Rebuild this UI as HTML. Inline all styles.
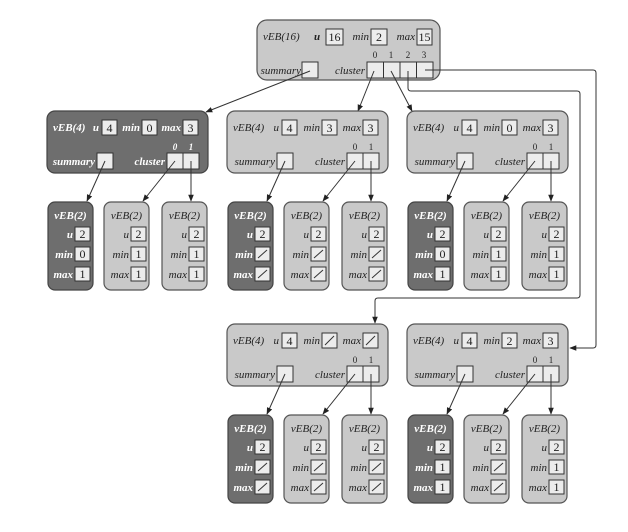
<!DOCTYPE html>
<html><head><meta charset="utf-8"><style>
body{margin:0;background:#fff}
svg{display:block}
text{font-family:"Liberation Serif",serif;font-style:italic;font-size:11px;fill:#222}
.n{font-style:normal;font-size:12px}
.d text{fill:#fff;font-weight:bold}
.d text.n{fill:#222;font-weight:normal}
.b{fill:#ececec;stroke:#333;stroke-width:1}
.L{fill:#c9c9c9;stroke:#555;stroke-width:1.2}
.D{fill:#6e6e6e;stroke:#444;stroke-width:1.2}
.a{stroke:#333;stroke-width:1;fill:none;marker-end:url(#ar)}
.s{stroke:#333;stroke-width:1}
</style></head><body>
<svg width="628" height="532" viewBox="0 0 628 532">
<defs>
<marker id="ar" viewBox="0 0 10 10" refX="9" refY="5" markerWidth="7" markerHeight="7" orient="auto-start-reverse"><path d="M0,1 L10,5 L0,9 z" fill="#222"/></marker>
<g id="v4in">
<rect class="b" x="55" y="9" width="15" height="15"/>
<rect class="b" x="95" y="9" width="15" height="15"/>
<rect class="b" x="136" y="9" width="15" height="15"/>
<rect class="b" x="50" y="42" width="16" height="16"/>
<rect class="b" x="120" y="42" width="16" height="16"/>
<rect class="b" x="136" y="42" width="16" height="16"/>
</g>
<g id="v2in">
<rect class="b" x="27" y="25" width="15" height="14"/>
<rect class="b" x="27" y="45" width="15" height="14"/>
<rect class="b" x="27" y="65" width="15" height="14"/>
</g>
</defs>

<rect class="L" x="257" y="20" width="183" height="60" rx="10"/>
<text x="263" y="40">vEB(16)</text>
<text x="314" y="40" style="font-weight:bold">u</text><rect class="b" x="326" y="29" width="17" height="16"/><text class="n" x="334.5" y="41" text-anchor="middle">16</text>
<text x="369" y="40" text-anchor="end">min</text><rect class="b" x="371" y="29" width="16" height="16"/><text class="n" x="379" y="41" text-anchor="middle">2</text>
<text x="415" y="40" text-anchor="end">max</text><rect class="b" x="417" y="29" width="15" height="16"/><text class="n" x="424.5" y="41" text-anchor="middle">15</text>
<text class="n" x="375" y="58" text-anchor="middle" style="font-size:9px">0</text>
<text class="n" x="391" y="58" text-anchor="middle" style="font-size:9px">1</text>
<text class="n" x="408" y="58" text-anchor="middle" style="font-size:9px">2</text>
<text class="n" x="424" y="58" text-anchor="middle" style="font-size:9px">3</text>
<text x="301" y="74" text-anchor="end">summary</text><rect class="b" x="302" y="62" width="16" height="16"/>
<text x="365" y="74" text-anchor="end">cluster</text>
<rect class="b" x="367" y="62" width="16.5" height="16"/><rect class="b" x="383.5" y="62" width="16.5" height="16"/><rect class="b" x="400" y="62" width="16.5" height="16"/><rect class="b" x="416.5" y="62" width="16.5" height="16"/>

<line class="a" x1="310" y1="71" x2="206" y2="112"/>
<line class="a" x1="374" y1="71" x2="358" y2="111"/>
<line class="a" x1="391" y1="71" x2="412" y2="111"/>
<path class="a" d="M408,71 V88 Q408,91 411,91 H577 Q580,91 580,94 V295 Q580,298 577,298 H378 Q375,298 375,301 V323"/>
<path class="a" d="M425,70 H593 Q596,70 596,73 V345 Q596,348 593,348 H570"/>

<g transform="translate(47,111)" class="d">
<rect class="D" x="0" y="0" width="161" height="62" rx="8"/>
<text x="6" y="20">vEB(4)</text><text x="52" y="20" text-anchor="end">u</text><text x="93" y="20" text-anchor="end">min</text><text x="134" y="20" text-anchor="end">max</text>
<text x="48" y="54" text-anchor="end">summary</text><text x="118" y="54" text-anchor="end">cluster</text>
<text x="128" y="39" text-anchor="middle" style="font-size:9px">0</text><text x="144" y="39" text-anchor="middle" style="font-size:9px">1</text>
<use href="#v4in"/>
<text class="n" x="62.5" y="21" text-anchor="middle">4</text><text class="n" x="102.5" y="21" text-anchor="middle">0</text><text class="n" x="143.5" y="21" text-anchor="middle">3</text>
</g>
<g transform="translate(227,111)">
<rect class="L" x="0" y="0" width="161" height="62" rx="8"/>
<text x="6" y="20">vEB(4)</text><text x="52" y="20" text-anchor="end">u</text><text x="93" y="20" text-anchor="end">min</text><text x="134" y="20" text-anchor="end">max</text>
<text x="48" y="54" text-anchor="end">summary</text><text x="118" y="54" text-anchor="end">cluster</text>
<text class="n" x="128" y="39" text-anchor="middle" style="font-size:9px">0</text><text class="n" x="144" y="39" text-anchor="middle" style="font-size:9px">1</text>
<use href="#v4in"/>
<text class="n" x="62.5" y="21" text-anchor="middle">4</text><text class="n" x="102.5" y="21" text-anchor="middle">3</text><text class="n" x="143.5" y="21" text-anchor="middle">3</text>
</g>
<g transform="translate(407,111)">
<rect class="L" x="0" y="0" width="161" height="62" rx="8"/>
<text x="6" y="20">vEB(4)</text><text x="52" y="20" text-anchor="end">u</text><text x="93" y="20" text-anchor="end">min</text><text x="134" y="20" text-anchor="end">max</text>
<text x="48" y="54" text-anchor="end">summary</text><text x="118" y="54" text-anchor="end">cluster</text>
<text class="n" x="128" y="39" text-anchor="middle" style="font-size:9px">0</text><text class="n" x="144" y="39" text-anchor="middle" style="font-size:9px">1</text>
<use href="#v4in"/>
<text class="n" x="62.5" y="21" text-anchor="middle">4</text><text class="n" x="102.5" y="21" text-anchor="middle">0</text><text class="n" x="143.5" y="21" text-anchor="middle">3</text>
</g>
<g transform="translate(227,324)">
<rect class="L" x="0" y="0" width="161" height="62" rx="8"/>
<text x="6" y="20">vEB(4)</text><text x="52" y="20" text-anchor="end">u</text><text x="93" y="20" text-anchor="end">min</text><text x="134" y="20" text-anchor="end">max</text>
<text x="48" y="54" text-anchor="end">summary</text><text x="118" y="54" text-anchor="end">cluster</text>
<text class="n" x="128" y="39" text-anchor="middle" style="font-size:9px">0</text><text class="n" x="144" y="39" text-anchor="middle" style="font-size:9px">1</text>
<use href="#v4in"/>
<text class="n" x="62.5" y="21" text-anchor="middle">4</text>
<line class="s" x1="98" y1="21" x2="107" y2="12"/><line class="s" x1="139" y1="21" x2="148" y2="12"/>
</g>
<g transform="translate(407,324)">
<rect class="L" x="0" y="0" width="161" height="62" rx="8"/>
<text x="6" y="20">vEB(4)</text><text x="52" y="20" text-anchor="end">u</text><text x="93" y="20" text-anchor="end">min</text><text x="134" y="20" text-anchor="end">max</text>
<text x="48" y="54" text-anchor="end">summary</text><text x="118" y="54" text-anchor="end">cluster</text>
<text class="n" x="128" y="39" text-anchor="middle" style="font-size:9px">0</text><text class="n" x="144" y="39" text-anchor="middle" style="font-size:9px">1</text>
<use href="#v4in"/>
<text class="n" x="62.5" y="21" text-anchor="middle">4</text><text class="n" x="102.5" y="21" text-anchor="middle">2</text><text class="n" x="143.5" y="21" text-anchor="middle">3</text>
</g>

<g transform="translate(47,111)"><line class="a" x1="58" y1="50" x2="40" y2="90"/><line class="a" x1="128" y1="50" x2="96" y2="90"/><line class="a" x1="144" y1="50" x2="144" y2="90"/></g>
<g transform="translate(227,111)"><line class="a" x1="58" y1="50" x2="40" y2="90"/><line class="a" x1="128" y1="50" x2="96" y2="90"/><line class="a" x1="144" y1="50" x2="144" y2="90"/></g>
<g transform="translate(407,111)"><line class="a" x1="58" y1="50" x2="40" y2="90"/><line class="a" x1="128" y1="50" x2="96" y2="90"/><line class="a" x1="144" y1="50" x2="144" y2="90"/></g>
<g transform="translate(227,324)"><line class="a" x1="58" y1="50" x2="40" y2="90"/><line class="a" x1="128" y1="50" x2="96" y2="90"/><line class="a" x1="144" y1="50" x2="144" y2="90"/></g>
<g transform="translate(407,324)"><line class="a" x1="58" y1="50" x2="40" y2="90"/><line class="a" x1="128" y1="50" x2="96" y2="90"/><line class="a" x1="144" y1="50" x2="144" y2="90"/></g>

<g transform="translate(48,202)" class="d"><rect class="D" width="45" height="88" rx="7"/><text x="22.5" y="17" text-anchor="middle">vEB(2)</text><text x="25" y="36" text-anchor="end">u</text><text x="25" y="56" text-anchor="end">min</text><text x="25" y="76" text-anchor="end">max</text><use href="#v2in"/><text class="n" x="34.5" y="36" text-anchor="middle">2</text><text class="n" x="34.5" y="56" text-anchor="middle">0</text><text class="n" x="34.5" y="76" text-anchor="middle">1</text></g>
<g transform="translate(104,202)"><rect class="L" width="45" height="88" rx="7"/><text x="22.5" y="17" text-anchor="middle">vEB(2)</text><text x="25" y="36" text-anchor="end">u</text><text x="25" y="56" text-anchor="end">min</text><text x="25" y="76" text-anchor="end">max</text><use href="#v2in"/><text class="n" x="34.5" y="36" text-anchor="middle">2</text><text class="n" x="34.5" y="56" text-anchor="middle">1</text><text class="n" x="34.5" y="76" text-anchor="middle">1</text></g>
<g transform="translate(162,202)"><rect class="L" width="45" height="88" rx="7"/><text x="22.5" y="17" text-anchor="middle">vEB(2)</text><text x="25" y="36" text-anchor="end">u</text><text x="25" y="56" text-anchor="end">min</text><text x="25" y="76" text-anchor="end">max</text><use href="#v2in"/><text class="n" x="34.5" y="36" text-anchor="middle">2</text><text class="n" x="34.5" y="56" text-anchor="middle">1</text><text class="n" x="34.5" y="76" text-anchor="middle">1</text></g>
<g transform="translate(228,202)" class="d"><rect class="D" width="45" height="88" rx="7"/><text x="22.5" y="17" text-anchor="middle">vEB(2)</text><text x="25" y="36" text-anchor="end">u</text><text x="25" y="56" text-anchor="end">min</text><text x="25" y="76" text-anchor="end">max</text><use href="#v2in"/><text class="n" x="34.5" y="36" text-anchor="middle">2</text><line class="s" x1="30" y1="56" x2="39" y2="48"/><line class="s" x1="30" y1="76" x2="39" y2="68"/></g>
<g transform="translate(284,202)"><rect class="L" width="45" height="88" rx="7"/><text x="22.5" y="17" text-anchor="middle">vEB(2)</text><text x="25" y="36" text-anchor="end">u</text><text x="25" y="56" text-anchor="end">min</text><text x="25" y="76" text-anchor="end">max</text><use href="#v2in"/><text class="n" x="34.5" y="36" text-anchor="middle">2</text><line class="s" x1="30" y1="56" x2="39" y2="48"/><line class="s" x1="30" y1="76" x2="39" y2="68"/></g>
<g transform="translate(342,202)"><rect class="L" width="45" height="88" rx="7"/><text x="22.5" y="17" text-anchor="middle">vEB(2)</text><text x="25" y="36" text-anchor="end">u</text><text x="25" y="56" text-anchor="end">min</text><text x="25" y="76" text-anchor="end">max</text><use href="#v2in"/><text class="n" x="34.5" y="36" text-anchor="middle">2</text><line class="s" x1="30" y1="56" x2="39" y2="48"/><line class="s" x1="30" y1="76" x2="39" y2="68"/></g>
<g transform="translate(408,202)" class="d"><rect class="D" width="45" height="88" rx="7"/><text x="22.5" y="17" text-anchor="middle">vEB(2)</text><text x="25" y="36" text-anchor="end">u</text><text x="25" y="56" text-anchor="end">min</text><text x="25" y="76" text-anchor="end">max</text><use href="#v2in"/><text class="n" x="34.5" y="36" text-anchor="middle">2</text><text class="n" x="34.5" y="56" text-anchor="middle">0</text><text class="n" x="34.5" y="76" text-anchor="middle">1</text></g>
<g transform="translate(464,202)"><rect class="L" width="45" height="88" rx="7"/><text x="22.5" y="17" text-anchor="middle">vEB(2)</text><text x="25" y="36" text-anchor="end">u</text><text x="25" y="56" text-anchor="end">min</text><text x="25" y="76" text-anchor="end">max</text><use href="#v2in"/><text class="n" x="34.5" y="36" text-anchor="middle">2</text><text class="n" x="34.5" y="56" text-anchor="middle">1</text><text class="n" x="34.5" y="76" text-anchor="middle">1</text></g>
<g transform="translate(522,202)"><rect class="L" width="45" height="88" rx="7"/><text x="22.5" y="17" text-anchor="middle">vEB(2)</text><text x="25" y="36" text-anchor="end">u</text><text x="25" y="56" text-anchor="end">min</text><text x="25" y="76" text-anchor="end">max</text><use href="#v2in"/><text class="n" x="34.5" y="36" text-anchor="middle">2</text><text class="n" x="34.5" y="56" text-anchor="middle">1</text><text class="n" x="34.5" y="76" text-anchor="middle">1</text></g>
<g transform="translate(228,415)" class="d"><rect class="D" width="45" height="88" rx="7"/><text x="22.5" y="17" text-anchor="middle">vEB(2)</text><text x="25" y="36" text-anchor="end">u</text><text x="25" y="56" text-anchor="end">min</text><text x="25" y="76" text-anchor="end">max</text><use href="#v2in"/><text class="n" x="34.5" y="36" text-anchor="middle">2</text><line class="s" x1="30" y1="56" x2="39" y2="48"/><line class="s" x1="30" y1="76" x2="39" y2="68"/></g>
<g transform="translate(284,415)"><rect class="L" width="45" height="88" rx="7"/><text x="22.5" y="17" text-anchor="middle">vEB(2)</text><text x="25" y="36" text-anchor="end">u</text><text x="25" y="56" text-anchor="end">min</text><text x="25" y="76" text-anchor="end">max</text><use href="#v2in"/><text class="n" x="34.5" y="36" text-anchor="middle">2</text><line class="s" x1="30" y1="56" x2="39" y2="48"/><line class="s" x1="30" y1="76" x2="39" y2="68"/></g>
<g transform="translate(342,415)"><rect class="L" width="45" height="88" rx="7"/><text x="22.5" y="17" text-anchor="middle">vEB(2)</text><text x="25" y="36" text-anchor="end">u</text><text x="25" y="56" text-anchor="end">min</text><text x="25" y="76" text-anchor="end">max</text><use href="#v2in"/><text class="n" x="34.5" y="36" text-anchor="middle">2</text><line class="s" x1="30" y1="56" x2="39" y2="48"/><line class="s" x1="30" y1="76" x2="39" y2="68"/></g>
<g transform="translate(408,415)" class="d"><rect class="D" width="45" height="88" rx="7"/><text x="22.5" y="17" text-anchor="middle">vEB(2)</text><text x="25" y="36" text-anchor="end">u</text><text x="25" y="56" text-anchor="end">min</text><text x="25" y="76" text-anchor="end">max</text><use href="#v2in"/><text class="n" x="34.5" y="36" text-anchor="middle">2</text><text class="n" x="34.5" y="56" text-anchor="middle">1</text><text class="n" x="34.5" y="76" text-anchor="middle">1</text></g>
<g transform="translate(464,415)"><rect class="L" width="45" height="88" rx="7"/><text x="22.5" y="17" text-anchor="middle">vEB(2)</text><text x="25" y="36" text-anchor="end">u</text><text x="25" y="56" text-anchor="end">min</text><text x="25" y="76" text-anchor="end">max</text><use href="#v2in"/><text class="n" x="34.5" y="36" text-anchor="middle">2</text><line class="s" x1="30" y1="56" x2="39" y2="48"/><line class="s" x1="30" y1="76" x2="39" y2="68"/></g>
<g transform="translate(522,415)"><rect class="L" width="45" height="88" rx="7"/><text x="22.5" y="17" text-anchor="middle">vEB(2)</text><text x="25" y="36" text-anchor="end">u</text><text x="25" y="56" text-anchor="end">min</text><text x="25" y="76" text-anchor="end">max</text><use href="#v2in"/><text class="n" x="34.5" y="36" text-anchor="middle">2</text><text class="n" x="34.5" y="56" text-anchor="middle">1</text><text class="n" x="34.5" y="76" text-anchor="middle">1</text></g>
</svg>
</body></html>
